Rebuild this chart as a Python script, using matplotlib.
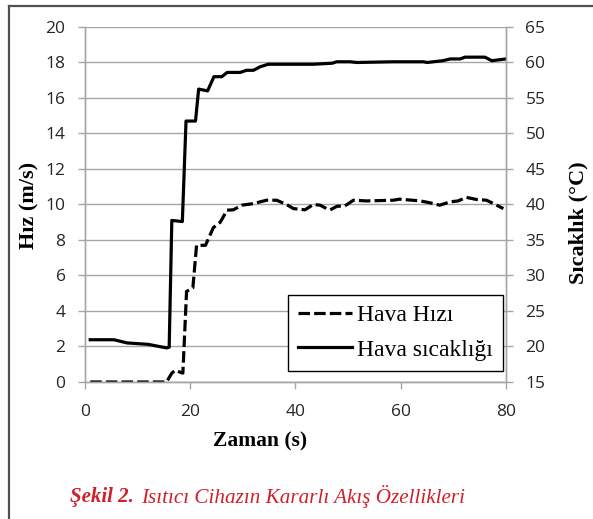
import matplotlib
matplotlib.use("Agg")
import matplotlib.pyplot as plt
from matplotlib.lines import Line2D

# Hava sıcaklığı (right axis, °C)
temp_t = [1, 5.5, 8, 12, 15.5, 16, 16.5, 18.5, 19.2, 21, 21.6, 23.3, 24.5, 26,
          27, 29.5, 30.7, 32, 33.3, 34.8, 43.4, 47, 47.8, 50.4, 51.6, 58.6,
          64.3, 65, 68, 69.4, 71.3, 72.2, 76, 77.3, 80]
temp_c = [20.95, 20.95, 20.5, 20.3, 19.8, 19.9, 37.75, 37.6, 51.75, 51.75,
          56.25, 56.0, 58.0, 58.0, 58.6, 58.6, 58.9, 58.9, 59.4, 59.75, 59.75,
          59.9, 60.1, 60.1, 60.0, 60.1, 60.1, 60.0, 60.25, 60.5, 60.5, 60.75,
          60.75, 60.25, 60.5]

# Hava Hızı (left axis, m/s)
vel_t = [1, 15.5, 16.5, 17.1, 18.6, 19.3, 20.5, 21.2, 22.9, 24.4, 25.7, 27,
         28.2, 29.8, 32, 34.5, 36.4, 38.3, 39.6, 41.8, 43.4, 44.7, 45.9, 46.6,
         47.9, 49.4, 51, 53.5, 58.6, 59.8, 63.7, 65.5, 67.4, 69.4, 70.9, 72.5,
         74.4, 76.3, 78.2, 79.5]
vel_ms = [0, 0, 0.5, 0.65, 0.5, 5.1, 5.3, 7.7, 7.7, 8.7, 9.0, 9.68, 9.7, 9.96,
          10.05, 10.24, 10.24, 10.0, 9.77, 9.7, 10.0, 9.96, 9.77, 9.7, 9.9,
          9.92, 10.24, 10.2, 10.24, 10.3, 10.2, 10.1, 9.96, 10.15, 10.2, 10.4,
          10.28, 10.24, 9.96, 9.77]

grid_c = '#a6a6a6'
txt_c = '#262626'
serif = 'Liberation Serif'

fig = plt.figure(figsize=(5.93, 5.19), dpi=100)
ax = fig.add_axes([0.1433, 0.264, 0.7100, 0.684])
ax2 = ax.twinx()

ln1, = ax.plot(vel_t, vel_ms, color='black', lw=2.3, linestyle=(0, (3.6, 1.3)),
               label='Hava Hızı')
ln2, = ax2.plot(temp_t, temp_c, color='black', lw=2.3, label='Hava sıcaklığı')

ax.set_xlim(0, 80)
ax.set_ylim(0, 20)
ax2.set_ylim(15, 65)
ax.set_xticks([0, 20, 40, 60, 80])
ax.set_yticks(range(0, 21, 2))
ax2.set_yticks(range(15, 66, 5))
ax.yaxis.grid(True, color=grid_c, lw=1)
ax.set_axisbelow(True)

for a in (ax, ax2):
    for s in a.spines.values():
        s.set_color(grid_c)
        s.set_linewidth(1)
    a.spines['top'].set_visible(False)
    a.tick_params(colors=grid_c, labelcolor=txt_c, length=5, width=1,
                  labelsize=12.5, pad=9)
ax.tick_params(axis='x', pad=11)
for lab in ax.get_xticklabels() + ax.get_yticklabels() + ax2.get_yticklabels():
    lab.set_fontfamily('Open Sans')

fig.text(0.438, 0.149, 'Zaman (s)', ha='center', va='center',
         fontfamily=serif, fontweight='bold', fontsize=15.5)
fig.text(0.049, 0.605, 'Hız (m/s)', rotation=90, ha='center', va='center',
         fontfamily=serif, fontweight='bold', fontsize=16)
fig.text(0.976, 0.570, 'Sıcaklık (°C)', rotation=90, ha='center', va='center',
         fontfamily=serif, fontweight='bold', fontsize=16)

leg = ax2.legend([ln1, ln2], ['Hava Hızı', 'Hava sıcaklığı'], loc='lower right',
                 bbox_to_anchor=(0.992, 0.032), borderaxespad=0, fancybox=False,
                 edgecolor='black', framealpha=1, handlelength=2.3,
                 prop={'family': serif, 'size': 17},
                 labelspacing=0.55, handletextpad=0.2, borderpad=0.42)
leg.get_frame().set_linewidth(1)

fig.text(0.118, 0.043, 'Şekil 2.', color='#d0202a', fontfamily=serif,
         fontweight='bold', fontstyle='italic', fontsize=15, va='center')
fig.text(0.238, 0.043, 'Isıtıcı Cihazın Kararlı Akış Özellikleri', color='#d0202a',
         fontfamily=serif, fontstyle='italic', fontsize=15.2, va='center')

fig.add_artist(Line2D([0.0152, 1.0], [0.989, 0.989], color='#505050', lw=1.6,
                      transform=fig.transFigure))
fig.add_artist(Line2D([0.0152, 0.0152], [0.989, 0.0], color='#505050', lw=1.6,
                      transform=fig.transFigure))

fig.savefig('out.png', dpi=100)
